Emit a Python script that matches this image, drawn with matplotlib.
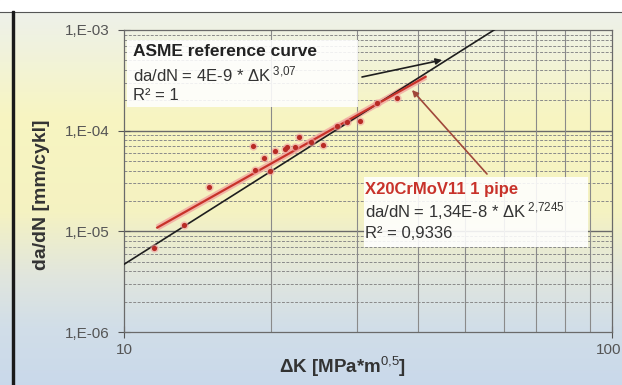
import numpy as np
import matplotlib
matplotlib.use("Agg")
import matplotlib.pyplot as plt
import matplotlib.transforms as mtrans
from matplotlib.colors import LinearSegmentedColormap
from matplotlib.ticker import FixedLocator, FixedFormatter

plt.rcParams['font.family'] = ['Liberation Sans', 'DejaVu Sans']
plt.rcParams['mathtext.fontset'] = 'custom'
plt.rcParams['mathtext.rm'] = 'Liberation Sans'
plt.rcParams['mathtext.it'] = 'Liberation Sans'
plt.rcParams['mathtext.bf'] = 'Liberation Sans:bold'

# ---- data ----
dk_points = [11.5, 13.3, 14.9, 18.4, 18.55, 19.35, 19.9, 20.4, 21.4, 21.6,
             22.4, 22.8, 24.2, 25.6, 27.3, 28.6, 30.5, 33.0, 36.3]
dadn_points = [6.9e-6, 1.15e-5, 2.75e-5, 7.1e-5, 4.1e-5, 5.4e-5, 4.0e-5, 6.3e-5,
               6.6e-5, 6.9e-5, 6.9e-5, 8.7e-5, 7.8e-5, 7.2e-5, 1.1e-4, 1.23e-4,
               1.26e-4, 1.9e-4, 2.1e-4]
asme_C, asme_m = 4e-9, 3.07
fit_C, fit_m = 1.34e-8, 2.7245
fit_range = [11.7, 41.5]
asme_range = [10, 100]
y_ticks = [1e-6, 1e-5, 1e-4, 1e-3]
y_tick_labels = ["1,E-06", "1,E-05", "1,E-04", "1,E-03"]
x_ticks = [10, 100]
x_tick_labels = ["10", "100"]

W, H = 622, 385
fig = plt.figure(figsize=(W / 100, H / 100), dpi=100)

# background gradient
bg = fig.add_axes([0, 0, 1, 1])
bg.set_axis_off()
cmap = LinearSegmentedColormap.from_list(
    "bg", [(0.0, (0.93, 0.94, 0.93)), (0.10, (0.94, 0.95, 0.88)),
           (0.30, (0.97, 0.96, 0.76)), (0.55, (0.96, 0.95, 0.76)),
           (0.72, (0.88, 0.90, 0.87)), (0.85, (0.82, 0.87, 0.91)),
           (1.0, (0.79, 0.85, 0.92))])
grad = np.linspace(0, 1, 256).reshape(-1, 1)
bg.imshow(grad, aspect="auto", cmap=cmap, extent=[0, 1, 0, 1], origin="upper")
bg.set_xlim(0, 1)
bg.set_ylim(0, 1)
# white top strip and dark left bar (photo frame)
bg.axhspan(1 - 11 / H, 1, color="white", zorder=2)
bg.axhline(1 - 11.5 / H, color="#555555", lw=0.8, zorder=3)
bg.axvspan(12 / W, 14 / W, ymax=1 - 11 / H, color="#1a1a1a", zorder=3)

ax = fig.add_axes([124 / W, 1 - 332 / H, (612 - 124) / W, (332 - 30) / H])
ax.set_facecolor("none")
ax.set_xscale("log")
ax.set_yscale("log")
ax.set_xlim(10, 100)
ax.set_ylim(1e-6, 1e-3)

# grid
for d in [1e-6, 1e-5, 1e-4]:
    for k in range(2, 10):
        ax.axhline(d * k, color="#8a8a8a", lw=0.7, ls=(0, (3, 1.5)), zorder=1)
for d in [1e-5, 1e-4]:
    ax.axhline(d, color="#6a6a6a", lw=1.0, zorder=1)
for k in range(2, 10):
    ax.axvline(10 * k, color="#8a8a8a", lw=0.8, zorder=1)

ax.yaxis.set_major_locator(FixedLocator(y_ticks))
ax.yaxis.set_major_formatter(FixedFormatter(y_tick_labels))
ax.yaxis.set_minor_locator(FixedLocator([]))
ax.xaxis.set_major_locator(FixedLocator(x_ticks))
ax.xaxis.set_major_formatter(FixedFormatter(x_tick_labels))
ax.xaxis.set_minor_locator(FixedLocator([]))
ax.tick_params(axis="y", length=8, width=0.8, color="#555555", direction="inout",
               labelsize=11, labelcolor="#555555", pad=6)
ax.tick_params(axis="x", length=8, width=0.8, color="#555555", direction="inout",
               labelsize=11, labelcolor="#555555", pad=4)
for lab in ax.get_xticklabels():
    if lab.get_text() == "100":
        lab.set_transform(lab.get_transform() +
                          mtrans.ScaledTranslation(-3 / 100, 0, fig.dpi_scale_trans))
for s in ax.spines.values():
    s.set_color("#6a6a6a")
    s.set_linewidth(0.9)

# ASME line
xa = np.array(asme_range, dtype=float)
ax.plot(xa, asme_C * xa ** asme_m, color="#1e1e1e", lw=1.2, zorder=4)

# fit line with pale halo
xf = np.array(fit_range, dtype=float)
ax.plot(xf, fit_C * xf ** fit_m, color="#f2a7a0", lw=4.5, alpha=0.8, zorder=3,
        solid_capstyle="butt")
ax.plot(xf, fit_C * xf ** fit_m, color="#c8322a", lw=1.6, zorder=5)

# points
ax.scatter(dk_points, dadn_points, s=36, color="#f0a0a0", alpha=0.6, zorder=5,
           linewidths=0)
ax.scatter(dk_points, dadn_points, s=14, color="#b82a25", zorder=6, linewidths=0)

# axis labels
fig.text(42 / W, 1 - 195 / H, "da/dN [mm/cykl]", rotation=90, ha="center",
         va="center", fontsize=14, fontweight="bold", color="#333333")
fig.text(343 / W, 1 - 367 / H, r"ΔK [MPa*m$^{0{,}5}$]",
         ha="center", va="center", fontsize=13.5, fontweight="bold", color="#333333")

# annotation box 1
fig.patches.append(plt.Rectangle((127 / W, 1 - 107 / H), (358 - 127) / W, (107 - 40) / H,
                                 transform=fig.transFigure, facecolor="white",
                                 edgecolor="none", alpha=0.88, zorder=5))
fig.text(133 / W, 1 - 51 / H, "ASME reference curve", fontsize=12.5,
         fontweight="bold", color="#222222", va="center", zorder=6)
fig.text(133 / W, 1 - 74 / H, r"da/dN = 4E-9 * ΔK$^{\ 3{,}07}$", fontsize=12,
         color="#333333", va="center", zorder=6)
fig.text(133 / W, 1 - 96 / H, "R² = 1", fontsize=12, color="#333333",
         va="center", zorder=6)

# annotation box 2
fig.patches.append(plt.Rectangle((364 / W, 1 - 247 / H), (588 - 364) / W, (247 - 177) / H,
                                 transform=fig.transFigure, facecolor="white",
                                 edgecolor="none", alpha=0.88, zorder=5))
fig.text(365 / W, 1 - 189 / H, "X20CrMoV11 1 pipe", fontsize=12,
         fontweight="bold", color="#c8322a", va="center", zorder=6)
fig.text(365 / W, 1 - 211 / H, r"da/dN = 1,34E-8 * ΔK$^{\ 2{,}7245}$", fontsize=12,
         color="#333333", va="center", zorder=6)
fig.text(365 / W, 1 - 233 / H, "R² = 0,9336", fontsize=12, color="#333333",
         va="center", zorder=6)

# arrows
ax.annotate("", xy=(442 / W, 1 - 60 / H), xycoords="figure fraction",
            xytext=(362 / W, 1 - 77 / H), textcoords="figure fraction",
            arrowprops=dict(arrowstyle="-|>", color="#1e1e1e", lw=1.2,
                            mutation_scale=9, shrinkA=0, shrinkB=0), zorder=7)
ax.annotate("", xy=(412 / W, 1 - 90 / H), xycoords="figure fraction",
            xytext=(487 / W, 1 - 174 / H), textcoords="figure fraction",
            arrowprops=dict(arrowstyle="-|>", color="#a0483a", lw=1.2,
                            mutation_scale=9, shrinkA=0, shrinkB=0), zorder=7)

fig.savefig("out.png", dpi=100)
